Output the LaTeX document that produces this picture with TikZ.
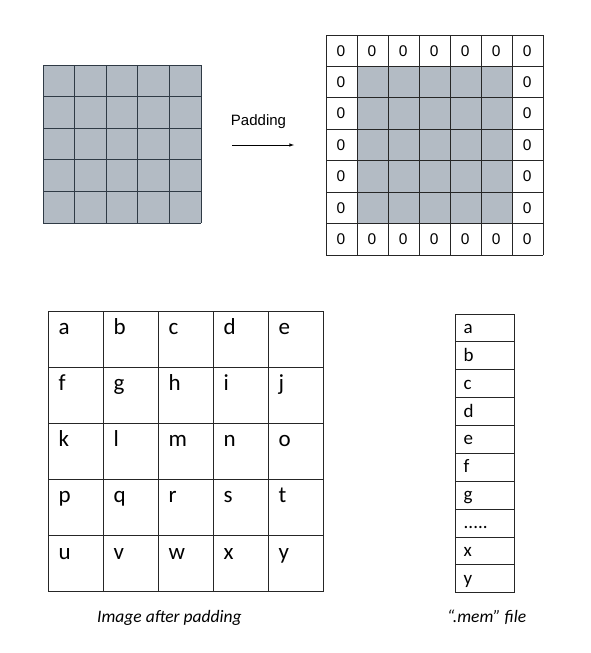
\documentclass[tikz,border=0pt]{standalone}
\usepackage{fontspec}
\setmainfont{Carlito}
\newfontfamily\arialf{Liberation Sans}
\definecolor{cellgray}{HTML}{B3BBC4}
\definecolor{gridline}{HTML}{2F3A45}
\newcommand\memdots{.{}.{}.{}.{}.}
\begin{document}
\begin{tikzpicture}[x=1pt,y=-1pt,
  gl/.style={draw=gridline,line width=0.9pt},
  bl/.style={draw=black!85,line width=0.9pt},
  zero/.style={font=\arialf\fontsize{15.5}{15.5}\selectfont,inner sep=0pt},
  letter/.style={font=\fontsize{23}{23}\selectfont,anchor=base west,inner sep=0pt},
  memletter/.style={font=\fontsize{19}{19}\selectfont,anchor=base west,inner sep=0pt},
  caption/.style={font=\itshape\fontsize{17.5}{17.5}\selectfont,anchor=base west,inner sep=0pt},
  lbl/.style={font=\arialf\fontsize{15}{15}\selectfont,inner sep=0pt}]
\useasboundingbox[fill=white] (0,0) rectangle (591,653);

% top-left image 5x5
\fill[cellgray] (43,65) rectangle (201,223);
\foreach \i in {0,1,2,3,4,5}{
  \draw[gl] (43+\i*31.6,65) -- (43+\i*31.6,223);
  \draw[gl] (43,65+\i*31.6) -- (201,65+\i*31.6);
}

% Padding arrow
\node[lbl] (padlbl) at (258.5,122) {Padding};
\coordinate (arrS) at (232,145);
\coordinate (arrE) at (294,145);
\draw[-{latex}, line width=0.6pt] (arrS) -- (arrE);

% top-right padded image 7x7
\fill[cellgray] (357.04,66.43) rectangle (512.26,223.57);
\foreach \i in {0,1,2,3,4,5,6,7}{
  \draw[bl] (326+\i*31.04,35) -- (326+\i*31.04,255);
  \draw[bl] (326,35+\i*31.43) -- (543.3,35+\i*31.43);
}
\foreach \i in {0,1,2,3,4,5,6}{
  \node[zero] (zt\i) at (326+\i*31.04+15,35+15.7) {0};
  \node[zero] (zb\i) at (326+\i*31.04+15,35+6*31.43+15.7) {0};
}
\foreach \j in {1,2,3,4,5}{
  \node[zero] (zl\j) at (326+15,35+\j*31.43+15.7) {0};
  \node[zero] (zr\j) at (326+6*31.04+15,35+\j*31.43+15.7) {0};
}

% bottom-left letter grid
\foreach \i in {0,1,2,3,4,5}{
  \draw[bl] (48.3+\i*55,311) -- (48.3+\i*55,591.7);
  \draw[bl] (48.3,311+\i*56.14) -- (323.3,311+\i*56.14);
}
\foreach \t [count=\k from 0] in {a,b,c,d,e,f,g,h,i,j,k,l,m,n,o,p,q,r,s,t,u,v,w,x,y}{
  \pgfmathtruncatemacro{\r}{int(\k/5)}
  \pgfmathtruncatemacro{\c}{mod(\k,5)}
  \node[letter] (g\t) at (48.3+\c*55+10,311+\r*56.14+23.5) {\t};
}

% .mem column
\foreach \i in {0,1,2,3,4,5,6,7,8,9,10}{
  \draw[bl] (455,314+\i*27.87) -- (514,314+\i*27.87);
}
\draw[bl] (455,314) -- (455,592.7);
\draw[bl] (514,314) -- (514,592.7);
\foreach \t [count=\k from 0] in {a,b,c,d,e,f,g,\memdots,x,y}{
  \node[memletter] (m\k) at (463.5,314+\k*27.87+19.5) {\t};
}

% captions
\node[caption] (cap1) at (97,622) {Image after padding};
\node[caption] (cap2) at (447,622) {“.mem” f{}ile};
\end{tikzpicture}
\end{document}
